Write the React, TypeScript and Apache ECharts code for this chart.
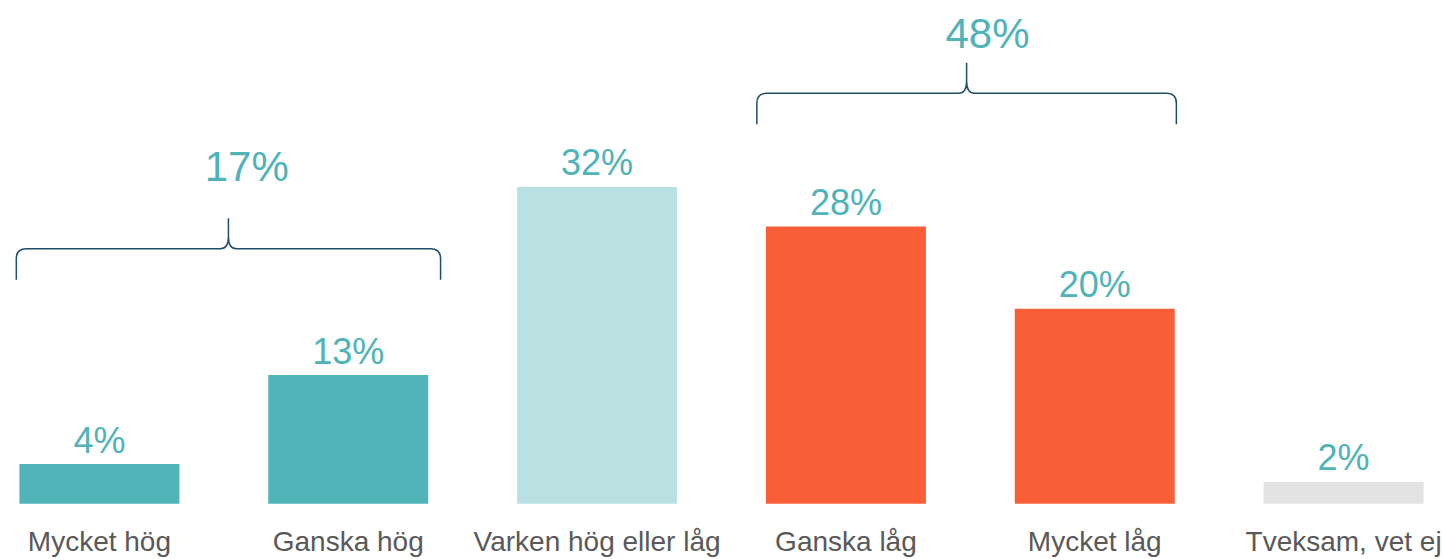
import React, { useEffect, useRef } from "react";
import * as echarts from "echarts";

const categories = ["Mycket hög", "Ganska hög", "Varken hög eller låg", "Ganska låg", "Mycket låg", "Tveksam, vet ej"];
const values = [4, 13, 32, 28, 19.7, 2.2];
const valueLabels = ["4%", "13%", "32%", "28%", "20%", "2%"];
const barColors = ["#50B4B8", "#50B4B8", "#B9E1E2", "#F95F36", "#F95F36", "#E3E3E3"];

// brace annotations (x in category units, y in value units)
const braceLabels = ["17%", "48%"];
const braceFrom = [-0.334, 2.642];
const braceTo = [1.371, 4.328];
const braceLevel = [25.76, 41.45];
const braceLabelX = [0.592, 3.569];
const braceLabelY = [34.1, 47.5];

const TEAL = "#4FB3B8";
const BRACE = "#1E4F66";

export default function App() {
  const ref = useRef<HTMLDivElement>(null);
  useEffect(() => {
    if (!ref.current) return;
    const chart = echarts.init(ref.current, null, { renderer: "svg" });
    chart.setOption({
      animation: false,
      grid: { left: 0, right: 0, top: 8.7, bottom: 55.3 },
      xAxis: {
        type: "category",
        data: categories,
        axisLine: { show: false },
        axisTick: { show: false },
        axisLabel: {
          interval: 0,
          margin: 24,
          color: "#595959",
          fontSize: 28,
          fontFamily: "Liberation Sans",
        },
      },
      yAxis: { type: "value", min: 0, max: 50, show: false, splitLine: { show: false } },
      series: [
        {
          type: "bar",
          barWidth: 160,
          data: values.map((v, i) => ({ value: v, itemStyle: { color: barColors[i] } })),
          label: {
            show: true,
            position: "top",
            distance: 6,
            color: TEAL,
            fontSize: 36,
            fontFamily: "Liberation Sans",
            formatter: (p: any) => valueLabels[p.dataIndex],
          },
        },
        {
          type: "custom",
          data: braceLevel.map((l, i) => [i, l]),
          renderItem: (params: any, api: any) => {
            const i = params.dataIndex;
            const c0 = api.coord([0, braceLevel[i]]);
            const band = api.size([1, 0])[0];
            const yH = c0[1];
            const xL = c0[0] + braceFrom[i] * band;
            const xR = c0[0] + braceTo[i] * band;
            const xT = (xL + xR) / 2;
            const yTip = yH - 30.5;
            const yEnd = yH + 31;
            const r = 10;
            const d =
              `M${xL} ${yEnd} L${xL} ${yH + r} Q${xL} ${yH} ${xL + r} ${yH} L${xT - 8} ${yH} ` +
              `Q${xT} ${yH} ${xT} ${yH - 12} L${xT} ${yTip} ` +
              `M${xT} ${yH - 12} Q${xT} ${yH} ${xT + 8} ${yH} L${xR - r} ${yH} Q${xR} ${yH} ${xR} ${yH + r} L${xR} ${yEnd}`;
            const lp = api.coord([0, braceLabelY[i]]);
            return {
              type: "group",
              children: [
                {
                  type: "path",
                  shape: { pathData: d },
                  style: { stroke: BRACE, lineWidth: 1.5, fill: "none" },
                },
                {
                  type: "text",
                  x: c0[0] + braceLabelX[i] * band,
                  y: lp[1],
                  style: {
                    text: braceLabels[i],
                    fill: TEAL,
                    fontSize: 42,
                    fontFamily: "Liberation Sans",
                    align: "center",
                    verticalAlign: "middle",
                  },
                },
              ],
            };
          },
        },
      ],
    });
    return () => chart.dispose();
  }, []);
  return (
    <div style={{ position: "absolute", left: 0, top: 0, width: 1442, height: 559, overflow: "hidden" }}>
      <div
        ref={ref}
        style={{ position: "absolute", left: -25.4, top: 0, width: 1492.8, height: 559 }}
      />
    </div>
  );
}
